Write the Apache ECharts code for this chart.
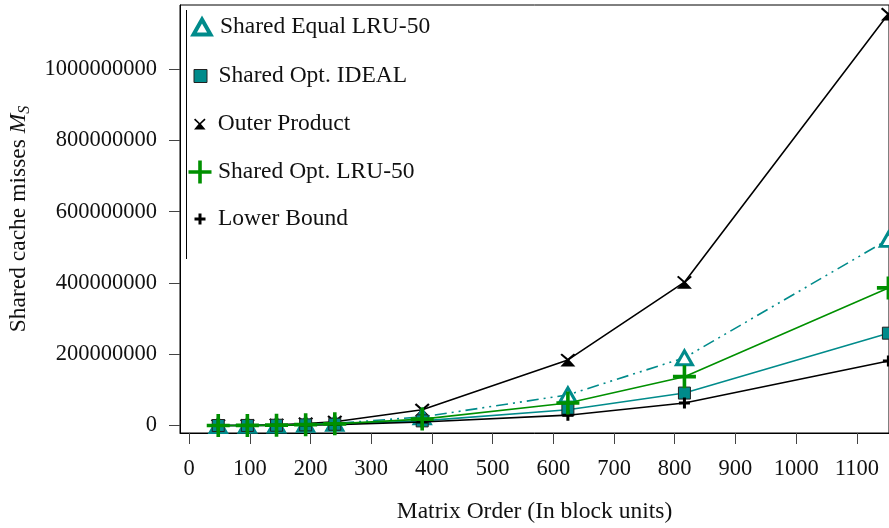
<!DOCTYPE html>
<html>
<head>
<meta charset="utf-8">
<script src="https://cdn.jsdelivr.net/npm/echarts@6/dist/echarts.min.js"></script>
<style>
html,body{margin:0;padding:0;background:#fff;}
#chart{width:889px;height:528px;}
</style>
</head>
<body>
<div id="chart"></div>
<script>
// ---- data ----
const matrixOrder = [48, 96, 144, 192, 240, 384, 624, 816, 1152];
const sharedEqualLRU50 = [0.05e6, 0.4e6, 1.3e6, 3.0e6, 6.0e6, 24e6, 86e6, 190e6, 522e6];
const sharedOptIdeal   = [0.03e6, 0.2e6, 0.8e6, 1.8e6, 3.5e6, 13e6, 44e6, 91e6, 259e6];
const outerProduct     = [0.1e6, 0.7e6, 2.3e6, 5.4e6, 10.5e6, 44e6, 184e6, 402e6, 1154e6];
const sharedOptLRU50   = [0.04e6, 0.3e6, 1.0e6, 2.4e6, 4.6e6, 18e6, 63e6, 137e6, 386e6];
const lowerBound       = [0.02e6, 0.15e6, 0.5e6, 1.3e6, 2.6e6, 10e6, 29e6, 63e6, 181e6];
const xTicks = [0, 100, 200, 300, 400, 500, 600, 700, 800, 900, 1000, 1100];
const yTicks = [0, 200000000, 400000000, 600000000, 800000000, 1000000000];

const TEAL = '#008b8b';
const GREEN = '#009000';
const FONT = 'Liberation Serif';

const plusSmall = 'path://M4,0 H7 V4 H11 V7 H7 V11 H4 V7 H0 V4 H4 Z';
const plusBig = 'path://M9.7,0 H13.3 V9.7 H23 V13.3 H13.3 V23 H9.7 V13.3 H0 V9.7 H9.7 Z';
const xTri = 'path://M0,2 L2,0 L10,7.6 L18,0 L20,2 L12,9.6 L20,19 L0,19 L8,9.6 Z';

function pairs(ys){ return matrixOrder.map((x,i)=>[x, ys[i]]); }

const chart = echarts.init(document.getElementById('chart'), null, {renderer:'canvas'});

const legendDefs = [
  {name:'Shared Equal LRU-50', cy:27, w:17, h:15, icon:'triangle', itemStyle:{color:'#fff', borderColor:TEAL, borderWidth:4}},
  {name:'Shared Opt. IDEAL', cy:76, w:13, h:13, icon:'rect', itemStyle:{color:TEAL, borderColor:'#222', borderWidth:1}},
  {name:'Outer Product', cy:124, w:12, h:11, icon:xTri, itemStyle:{color:'#000', borderWidth:0}},
  {name:'Shared Opt. LRU-50', cy:172, w:23, h:23, icon:plusBig, itemStyle:{color:GREEN, borderWidth:0}},
  {name:'Lower Bound', cy:219, w:11, h:11, icon:plusSmall, itemStyle:{color:'#000', borderWidth:0}}
];
const iconCx = 200;
const legends = legendDefs.map(d => ({
  data: [d.name],
  orient: 'vertical',
  left: iconCx - d.w/2,
  top: d.cy - 13,
  padding: 0,
  itemWidth: d.w,
  itemHeight: d.h,
  icon: d.icon,
  itemStyle: d.itemStyle,
  selectedMode: false,
  textStyle: {fontFamily: FONT, fontSize: 23.5, color: '#111', padding: [0,0,0, 218 - (iconCx + d.w/2) - 5], lineHeight: 26}
}));

const plain = v => String(v);

const option = {
  animation: false,
  backgroundColor: '#fff',
  grid: {left: 180, top: 5, right: 0, bottom: 95, show: true, borderColor: '#000', borderWidth: 1,
         containLabel: false, outerBoundsMode: 'none'},
  legend: legends,
  graphic: [{type:'line', shape:{x1:186.5, y1:10, x2:186.5, y2:259}, style:{stroke:'#000', lineWidth:1}, z: 100}],
  xAxis: {
    type: 'value', min: -15, max: 1153,
    name: 'Matrix Order (In block units)', nameLocation: 'middle', nameGap: 67,
    nameTextStyle: {fontFamily: FONT, fontSize: 23.5, color: '#111'},
    axisLine: {show: true, onZero: false, lineStyle: {color: '#000', width: 1}},
    axisTick: {show: true, length: 11, inside: false, customValues: xTicks, lineStyle: {color: '#444'}},
    axisLabel: {show: true, customValues: xTicks, formatter: plain, margin: 25, fontFamily: FONT, fontSize: 22.5, color: '#111'},
    splitLine: {show: false}
  },
  yAxis: {
    type: 'value', min: -21e6, max: 1179.5e6,
    name: '{t|Shared cache misses }{m|M}{s|S}', nameLocation: 'middle', nameGap: 147,
    nameTextStyle: {fontFamily: FONT, fontSize: 23.5, color: '#111', rich: {
      t: {fontFamily: FONT, fontSize: 23.5, color: '#111', lineHeight: 28},
      m: {fontFamily: FONT, fontSize: 23.5, fontStyle: 'italic', color: '#111', lineHeight: 28},
      s: {fontFamily: FONT, fontSize: 16, fontStyle: 'italic', color: '#111', lineHeight: 15, verticalAlign: 'bottom'}
    }},
    axisLine: {show: true, onZero: false, lineStyle: {color: '#000', width: 1}},
    axisTick: {show: true, length: 11, inside: false, customValues: yTicks, lineStyle: {color: '#444'}},
    axisLabel: {show: true, customValues: yTicks, formatter: plain, margin: 23, fontFamily: FONT, fontSize: 22.5, color: '#111'},
    splitLine: {show: false}
  },
  series: [
    {name:'Outer Product', type:'line', data: pairs(outerProduct), color:'#000',
     symbol: xTri, symbolSize: [15, 13], lineStyle:{color:'#000', width:1.6},
     itemStyle:{color:'#000', borderWidth:0}, z: 2},
    {name:'Shared Equal LRU-50', type:'line', data: pairs(sharedEqualLRU50), color: TEAL,
     symbol:'triangle', symbolSize:[16, 14], lineStyle:{color:TEAL, width:1.6, type:[12,5,2,5,2,5]},
     itemStyle:{color:'#fff', borderColor:TEAL, borderWidth:3}, z: 3},
    {name:'Shared Opt. IDEAL', type:'line', data: pairs(sharedOptIdeal), color: TEAL,
     symbol:'rect', symbolSize: 12, lineStyle:{color:TEAL, width:1.6},
     itemStyle:{color:TEAL, borderColor:'#222', borderWidth:1}, z: 4},
    {name:'Lower Bound', type:'line', data: pairs(lowerBound), color:'#000',
     symbol: plusSmall, symbolSize: 11, lineStyle:{color:'#000', width:1.6},
     itemStyle:{color:'#000', borderWidth:0}, z: 5},
    {name:'Shared Opt. LRU-50', type:'line', data: pairs(sharedOptLRU50), color: GREEN,
     symbol: plusBig, symbolSize: 23, lineStyle:{color:GREEN, width:1.6},
     itemStyle:{color:GREEN, borderWidth:0}, z: 6}
  ]
};
chart.setOption(option);
</script>
</body>
</html>
